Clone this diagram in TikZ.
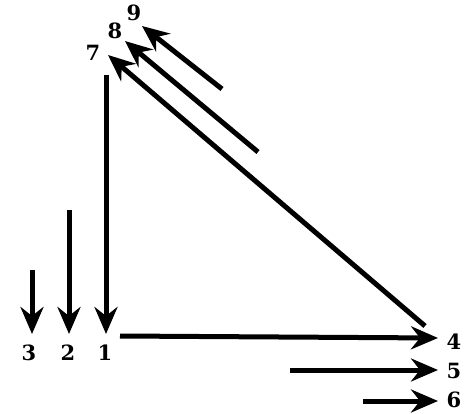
\documentclass[tikz,border=0pt]{standalone}
\usepackage{fontspec}
\setmainfont{DejaVu Serif}
\usetikzlibrary{arrows.meta}
\begin{document}
\begin{tikzpicture}[x=1pt,y=-1pt,
  lab/.style={font=\fontsize{21}{25}\selectfont\bfseries, inner sep=0pt},
  arr/.style={line width=5pt, -{Stealth[length=27pt,width=23pt,inset=9pt]}}]
\useasboundingbox (0,0) rectangle (471,414);
% labels
\node[lab] (l1) at (105,353) {1};
\node[lab] (l2) at (68,353) {2};
\node[lab] (l3) at (29,353) {3};
\node[lab] (l4) at (454,342) {4};
\node[lab] (l5) at (454,371) {5};
\node[lab] (l6) at (454,400) {6};
\node[lab] (l7) at (93,53) {7};
\node[lab] (l8) at (115,31) {8};
\node[lab] (l9) at (134,13) {9};
% ends
\coordinate (s1) at (106,75);   \coordinate (t1) at (106,334);
\coordinate (s2) at (69,210);   \coordinate (t2) at (69,334);
\coordinate (s3) at (32,270);   \coordinate (t3) at (32,334);
\coordinate (s4) at (120,336);  \coordinate (t4) at (438,338);
\coordinate (s5) at (290,370);  \coordinate (t5) at (438,370);
\coordinate (s6) at (363,401);  \coordinate (t6) at (438,401);
\coordinate (s7) at (425,326);  \coordinate (t7) at (108,55);
\coordinate (s8) at (258,152);  \coordinate (t8) at (125,41);
\coordinate (s9) at (222,89);   \coordinate (t9) at (142,26);
\draw[arr] (s1) -- (t1);
\draw[arr] (s2) -- (t2);
\draw[arr] (s3) -- (t3);
\draw[arr] (s4) -- (t4);
\draw[arr] (s5) -- (t5);
\draw[arr] (s6) -- (t6);
\draw[arr] (s7) -- (t7);
\draw[arr] (s8) -- (t8);
\draw[arr] (s9) -- (t9);
\end{tikzpicture}
\end{document}
